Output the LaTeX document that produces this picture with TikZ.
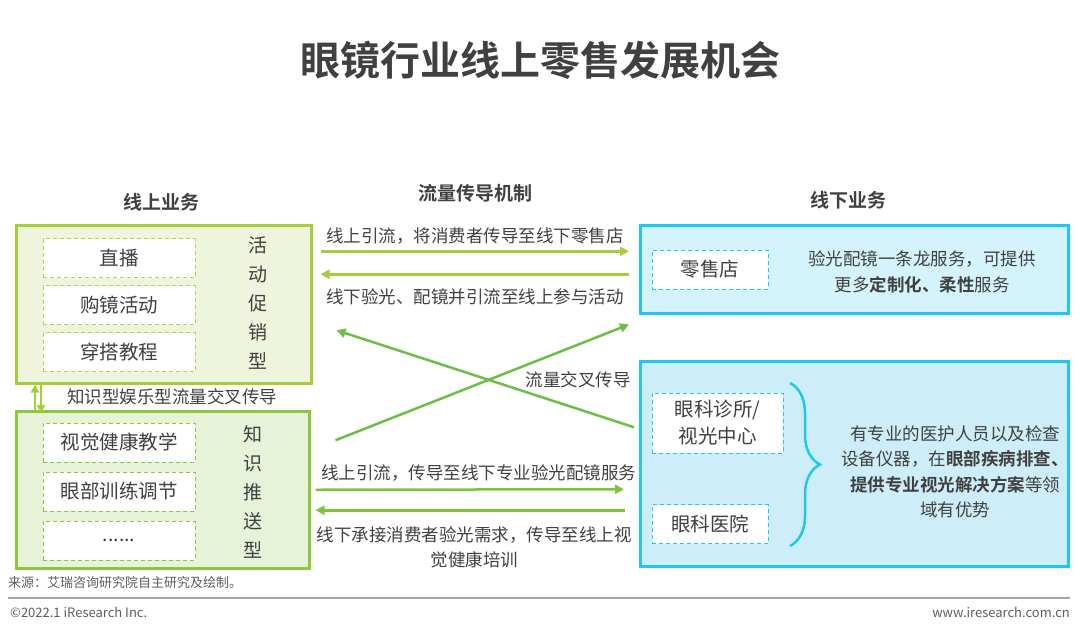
\documentclass[tikz,border=0pt]{standalone}
\usepackage{fontspec}
\setmainfont{Noto Sans CJK SC}[BoldFont={Noto Sans CJK SC Bold}]
\usepackage{xcolor}
\usepackage{tikz}
\usetikzlibrary{arrows.meta, positioning, decorations.pathreplacing, calc}
\definecolor{txtgray}{RGB}{64,64,64}
\definecolor{leafgreen}{RGB}{166,206,57}
\definecolor{leaffill}{RGB}{239,245,221}
\definecolor{grassgreen}{RGB}{141,198,63}
\definecolor{grassfill}{RGB}{230,243,217}
\definecolor{crossgreen}{RGB}{108,190,69}
\definecolor{lowgreen}{RGB}{125,196,60}
\definecolor{skycyan}{RGB}{30,200,240}
\definecolor{skyfill}{RGB}{213,243,252}
\definecolor{skyfilldeep}{RGB}{205,238,249}
\definecolor{rulegray}{RGB}{165,165,165}

\begin{document}
\begin{tikzpicture}[x=1pt, y=-1pt,
    text=txtgray,
    panel/.style={rectangle, line width=2.5pt, anchor=north west, inner sep=0pt},
    item/.style={rectangle, draw, dashed, dash pattern=on 4pt off 3pt, line width=1pt, fill=white, align=center, minimum width=152pt, minimum height=39pt, inner sep=0pt, font=\fontsize{19.5}{24}\selectfont},
    vtext/.style={align=center, inner sep=0pt, font=\fontsize{19}{29}\selectfont},
    heading/.style={font=\bfseries\fontsize{19}{24}\selectfont},
    flowlabel/.style={font=\fontsize{17.5}{25.5}\selectfont, text=txtgray, inner sep=0pt, align=center},
    flow/.style={-{Triangle[length=9pt,width=9pt]}, line width=2.5pt},
    footnote/.style={font=\fontsize{13}{16}\selectfont, text=txtgray!85, inner sep=0pt}
]
\useasboundingbox (0,0) rectangle (1080,633);

% titles
\node[font=\bfseries\fontsize{40}{48}\selectfont] (title) at (540,60) {眼镜行业线上零售发展机会};
\node[heading] (hdonline) at (161,202) {线上业务};
\node[heading] (hdflow) at (475,193) {流量传导机制};
\node[heading] (hdoffline) at (848,200) {线下业务};

% online side
\node[panel, draw=leafgreen, fill=leaffill, minimum width=295pt, minimum height=158pt] (promo) at (15,224) {};
\node[item, draw=leafgreen!85] (live) at (119,258) {直播};
\node[item, draw=leafgreen!85, below=7pt of live] (buy) {购镜活动};
\node[item, draw=leafgreen!85, below=7pt of buy] (style) {穿搭教程};
\node[vtext] (promotype) at (258,303) {活\\动\\促\\销\\型};

\node[panel, draw=grassgreen, fill=grassfill, minimum width=293pt, minimum height=157pt] (know) at (15,410) {};
\node[item, draw=grassgreen] (vision) at (119,442.5) {视觉健康教学};
\node[item, draw=grassgreen, below=9pt of vision] (train) {眼部训练调节};
\node[item, draw=grassgreen, below=9pt of train] (more) {......};
\node[vtext] (knowtype) at (253,492) {知\\识\\推\\送\\型};

\node[flowlabel] (crossleft) at (172,397) {知识型娱乐型流量交叉传导};

% offline side
\node[panel, draw=skycyan, fill=skyfill, minimum width=428pt, minimum height=88pt] (shop) at (639,224) {};
\node[item, draw=skycyan, minimum width=116pt] (store) at (710,269.5) {零售店};
\node[flowlabel] (shoptext) at (922,272) {验光配镜一条龙服务，可提供\\更多\textbf{定制化、柔性}服务};

\node[panel, draw=skycyan, fill=skyfilldeep, minimum width=428pt, minimum height=205pt] (clinic) at (639,360) {};
\node[item, draw=skycyan, minimum width=131pt, minimum height=60pt, font=\fontsize{19.5}{27}\selectfont] (optic) at (717.5,423) {眼科诊所/\\视光中心};
\node[item, draw=skycyan, minimum width=116pt] (hospital) at (710,524) {眼科医院};
\node[flowlabel] (clinictext) at (955,472) {有专业的医护人员以及检查\\设备仪器，在\textbf{眼部疾病排查、}\\\textbf{提供专业视光解决方案}等领\\域有优势};
\draw[skycyan, line width=2.5pt, decorate, decoration={brace, amplitude=30pt, aspect=0.5}]
    (790,383) -- (790,546);

% flows between the two sides
\draw[flow, leafgreen] ([xshift=8pt,yshift=53pt]promo.east) -- node[flowlabel, above=6pt] (toshop) {线上引流，将消费者传导至线下零售店} ([xshift=-10pt,yshift=18pt]shop.west);
\draw[flow, leafgreen] ([xshift=-10pt,yshift=-5pt]shop.west) -- node[flowlabel, below=13pt] (toonline) {线下验光、配镜并引流至线上参与活动} ([xshift=8pt,yshift=30pt]promo.east);
\draw[flow, crossgreen] ([xshift=25pt,yshift=49.5pt]know.east) -- ([xshift=-10pt,yshift=-10pt]shop.south west);
\draw[flow, crossgreen] ([xshift=-5pt,yshift=36.5pt]clinic.west) -- ([xshift=24pt,yshift=-26pt]promo.east);
\node[flowlabel] (crossright) at (578,380) {流量交叉传导};
\draw[flow, lowgreen] ([xshift=5pt]know.east) -- node[flowlabel, above=7pt, xshift=9pt] (toclinic) {线上引流，传导至线下专业验光配镜服务} ([xshift=-15pt,yshift=-25.5pt]clinic.west);
\draw[flow, lowgreen] ([xshift=-14pt,yshift=-46.5pt]clinic.west) -- node[flowlabel, below=15pt, xshift=4pt] (toknow) {线下承接消费者验光需求，传导至线上视\\觉健康培训} ([xshift=5pt,yshift=-20.5pt]know.east);

% flows between the two online panels
\draw[-{Triangle[length=8pt,width=8pt]}, leafgreen, line width=2.2pt] ([xshift=20pt]know.north west) -- ([xshift=20pt]promo.south west);
\draw[-{Triangle[length=8pt,width=8pt]}, leafgreen, line width=2.2pt] ([xshift=26pt]promo.south west) -- ([xshift=26pt,yshift=-3pt]know.north west);

% footer
\node[footnote, anchor=west] (source) at (8,583) {来源：艾瑞咨询研究院自主研究及绘制。};
\coordinate (ruleleft) at (8,598);
\coordinate (ruleright) at (1070,598);
\draw[rulegray, line width=1.5pt] (ruleleft) -- (ruleright);
\node[footnote, anchor=west] (copy) at (10,612) {©2022.1 iResearch Inc.};
\node[footnote, anchor=east] (web) at (1070,612) {www.iresearch.com.cn};
\end{tikzpicture}
\end{document}
